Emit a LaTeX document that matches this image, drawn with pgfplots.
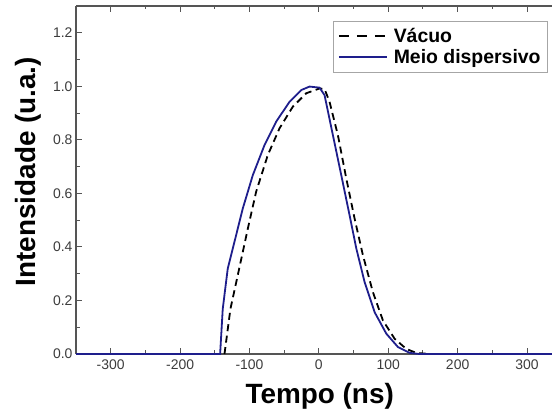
\documentclass[border=0pt]{standalone}
\usepackage{pgfplots}
\pgfplotsset{compat=1.18}
\usepackage{fontspec}
\setmainfont{Liberation Sans}
\definecolor{navy}{RGB}{30,30,140}
\definecolor{axgray}{RGB}{85,85,85}
\definecolor{lblgray}{RGB}{60,60,60}
\begin{document}
\begin{tikzpicture}
\path[use as bounding box] (0,0) rectangle (552bp,411bp);
\begin{axis}[
  at={(76bp,57bp)}, anchor=south west,
  scale only axis, width=476bp, height=348bp,
  xmin=-350, xmax=336, ymin=0, ymax=1.3,
  axis x line*=box, axis y line*=left,
  axis line style={axgray, line width=1.1bp},
  every tick/.style={axgray, line width=1bp},
  major tick length=6bp, minor tick length=3.5bp,
  tick align=inside,
  xtick={-300,-200,...,300}, minor x tick num=1,
  ytick={0,0.2,...,1.2}, minor y tick num=1,
  xtick pos=both, ytick pos=left,
  /pgf/number format/assume math mode=true,
  yticklabel style={/pgf/number format/.cd, fixed, fixed zerofill, precision=1},
  tick label style={font=\fontsize{14}{16}\selectfont, text=lblgray},
  xticklabel style={yshift=-2bp},
  xlabel={\textbf{Tempo (ns)}},
  ylabel={\textbf{Intensidade (u.a.)}},
  label style={font=\fontsize{28}{30}\selectfont},
  xlabel style={at={(axis description cs:0.512,0)}, anchor=base, yshift=-49bp},
  ylabel style={at={(axis description cs:-0.085,0.524)}, anchor=base},
  clip=false,
  legend style={at={(0.9916,0.957)}, anchor=north east, draw=gray!70, line width=0.8bp,
    font=\fontsize{19.5}{21}\selectfont\bfseries, inner xsep=5bp, inner ysep=5bp, row sep=1.5bp,
    cells={anchor=west}},
  legend cell align=left,
  legend image code/.code={\draw[#1] (0bp,0bp) -- (48bp,0bp); \path (52bp,0bp);},
]
\addplot[black, line width=1.8bp, dash pattern=on 7bp off 4.5bp, forget plot] coordinates {
(-136,0) (-127.4,0.169) (-116.9,0.294) (-102.4,0.468) (-90.4,0.606) (-73.6,0.743)
(-56.7,0.843) (-37.5,0.924) (-18.2,0.974) (1,0.992) (8.2,0.99) (15.4,0.942)
(27.4,0.818) (39.5,0.656) (51.5,0.506) (63.5,0.369) (77.9,0.231) (92.4,0.125)
(109.2,0.057) (126,0.019) (140.4,0.004) (160,0)
};
\addlegendimage{black, line width=1.8bp, dash pattern=on 10bp off 8bp}
\addlegendentry{Vácuo}
\addplot[navy, line width=1.8bp] coordinates {
(-350,0) (-142.3,0) (-138.5,0.169) (-131.3,0.319) (-119.3,0.443) (-109.7,0.543)
(-95.2,0.668) (-78.4,0.780) (-61.5,0.868) (-42.3,0.942) (-25.4,0.986) (-13.4,0.999)
(1,0.995) (8.2,0.967) (20.2,0.818) (32.3,0.668) (44.3,0.518) (54,0.394)
(65.9,0.269) (80.4,0.156) (97.2,0.076) (114,0.026) (130.9,0.004) (145,0) (336,0)
};
\addlegendentry{Meio dispersivo}
\end{axis}
\end{tikzpicture}
\end{document}
